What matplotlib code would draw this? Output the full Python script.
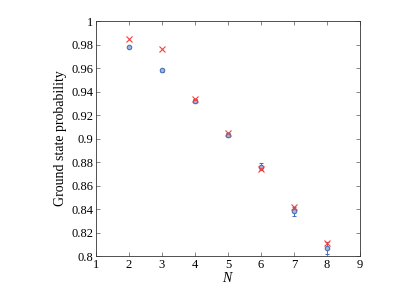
import matplotlib
matplotlib.use("Agg")
import matplotlib.pyplot as plt

plt.rcParams["font.family"] = ["Liberation Serif", "DejaVu Serif"]
plt.rcParams["mathtext.fontset"] = "custom"
plt.rcParams["mathtext.it"] = "Liberation Serif:italic"

N = [2, 3, 4, 5, 6, 7, 8]
measured = [0.978, 0.958, 0.932, 0.903, 0.876, 0.838, 0.807]
measured_err = [0.001, 0.001, 0.002, 0.002, 0.003, 0.004, 0.005]
theory = [0.985, 0.976, 0.934, 0.905, 0.874, 0.842, 0.811]

fig = plt.figure(figsize=(3.99, 2.88), dpi=100)
ax = fig.add_axes([0.2406, 0.111, 0.6614, 0.816])

ax.errorbar(N, measured, yerr=measured_err, fmt="o", ms=3.2,
            mfc="#9db8e0", mec="#4a72b8", mew=0.8, ecolor="#4a72b8",
            elinewidth=0.7, capsize=1.5, capthick=0.7, zorder=2)
ax.plot(N, theory, "x", color="#f04040", ms=4.5, mew=0.8, zorder=3)

ax.set_xlim(1, 9)
ax.set_ylim(0.8, 1.0)
ax.set_xticks(range(1, 10))
ax.set_yticks([0.8, 0.82, 0.84, 0.86, 0.88, 0.9, 0.92, 0.94, 0.96, 0.98, 1.0])
ax.set_yticklabels(["0.8", "0.82", "0.84", "0.86", "0.88", "0.9",
                    "0.92", "0.94", "0.96", "0.98", "1"])
ax.tick_params(direction="in", top=True, right=True, length=3, width=0.5,
               labelsize=9, color="#555555", pad=2)
for s in ax.spines.values():
    s.set_linewidth(0.6)
    s.set_color("#333333")

ax.set_xlabel("$N$", fontsize=10, labelpad=0)
ax.set_ylabel("Ground state probability", fontsize=10, labelpad=3)

fig.savefig("out.png", dpi=100)
